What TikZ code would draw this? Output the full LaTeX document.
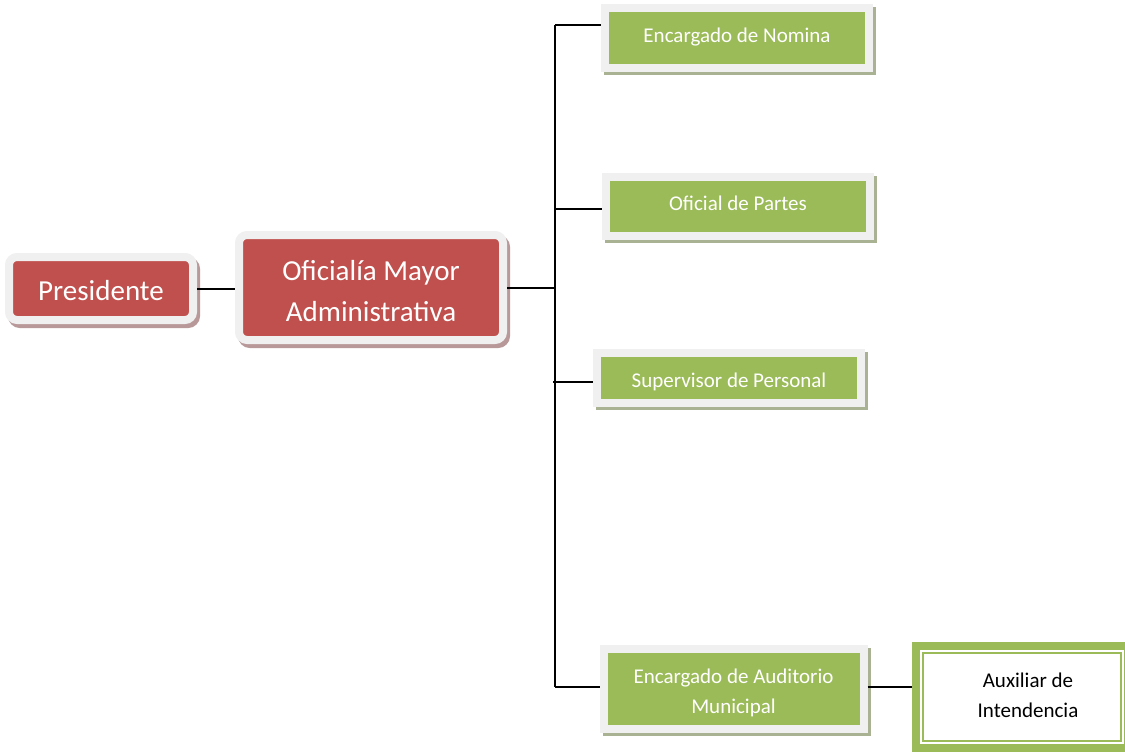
\documentclass[tikz,border=0pt]{standalone}
\usepackage{fontspec}
\setmainfont{Carlito}
\definecolor{boxred}{HTML}{C0504D}
\definecolor{boxgreen}{HTML}{9BBB59}
\definecolor{framegray}{HTML}{F0F0F0}
\definecolor{redshadow}{HTML}{B89898}
\definecolor{greenshadow}{HTML}{A9B393}
% centred block of lines with no height of its own, moved up or down by #1
\newcommand\boxtext[2]{\raisebox{#1}[0pt][0pt]{\begin{tabular}{@{}c@{}}#2\end{tabular}}}
\begin{document}
\begin{tikzpicture}[x=1pt,y=-1pt,
  framed/.style={draw=framegray, line width=8pt, inner sep=0pt},
  redbox/.style={framed, fill=boxred, rounded corners=8pt, text=white,
    font=\fontsize{29}{41}\selectfont,
    preaction={draw=redshadow, fill=redshadow, transform canvas={shift={(3pt,-4pt)}}}},
  greenbox/.style={framed, fill=boxgreen, text=white,
    font=\fontsize{21}{30}\selectfont,
    preaction={draw=greenshadow, fill=greenshadow, transform canvas={shift={(3pt,-3pt)}}}},
  auxbox/.style={draw=boxgreen, line width=8pt, fill=white, inner sep=0pt,
    font=\fontsize{21}{30}\selectfont},
  auxline/.style={draw=boxgreen, line width=2.5pt},
  conn/.style={draw=black, line width=2pt}]
\clip (0,0) rectangle (1125,752);
\fill[white] (0,0) rectangle (1125,752);

% red boxes
\node[redbox, minimum width=184pt, minimum height=63pt] (pres) at (101,288.5)
  {\boxtext{-10.5pt}{Presidente}};
\node[redbox, minimum width=264pt, minimum height=105pt] (ofi) at (371,287.5)
  {\boxtext{-12pt}{Oficialía Mayor\\Administrativa}};

% green boxes
\node[greenbox, minimum width=264pt, minimum height=60pt] (nom) at (737,38)
  {\boxtext{-3.9pt}{Encargado de Nomina}};
\node[greenbox, minimum width=264pt, minimum height=59pt] (partes) at (738,206.5)
  {\boxtext{-3.4pt}{Oficial de Partes}};
\node[greenbox, minimum width=264pt, minimum height=50pt] (sup) at (729,378)
  {\boxtext{-8.9pt}{Supervisor de Personal}};
\node[greenbox, minimum width=260pt, minimum height=80pt] (aud) at (733.5,689)
  {\boxtext{-8.5pt}{Encargado de Auditorio\\Municipal}};

% framed white box
\node[auxbox, minimum width=212pt, minimum height=102pt] (aux) at (1022,697)
  {\hspace*{12pt}\boxtext{-4.5pt}{Auxiliar de\\Intendencia}};
\draw[auxline] ([shift={(11,11)}]aux.north west) rectangle ([shift={(-11,-11)}]aux.south east);

% connectors
\coordinate (t0) at (555,25);
\coordinate (t2) at (555,209);
\coordinate (t3) at (553,382);
\coordinate (tEnd) at (555,687);
\draw[conn] (pres.east) -- (pres.east -| ofi.west);
\draw[conn] (ofi.east) -- (ofi.east -| t0);
\draw[conn] (t0) -- (tEnd);
\draw[conn] (t0) -- (t0 -| nom.west);
\draw[conn] (t2) -- (t2 -| partes.west);
\draw[conn] (t3) -- (t3 -| sup.west);
\draw[conn] (tEnd) -- (tEnd -| aud.west);
\draw[conn] (aud.east |- tEnd) -- (aux.west |- tEnd);
\end{tikzpicture}
\end{document}
